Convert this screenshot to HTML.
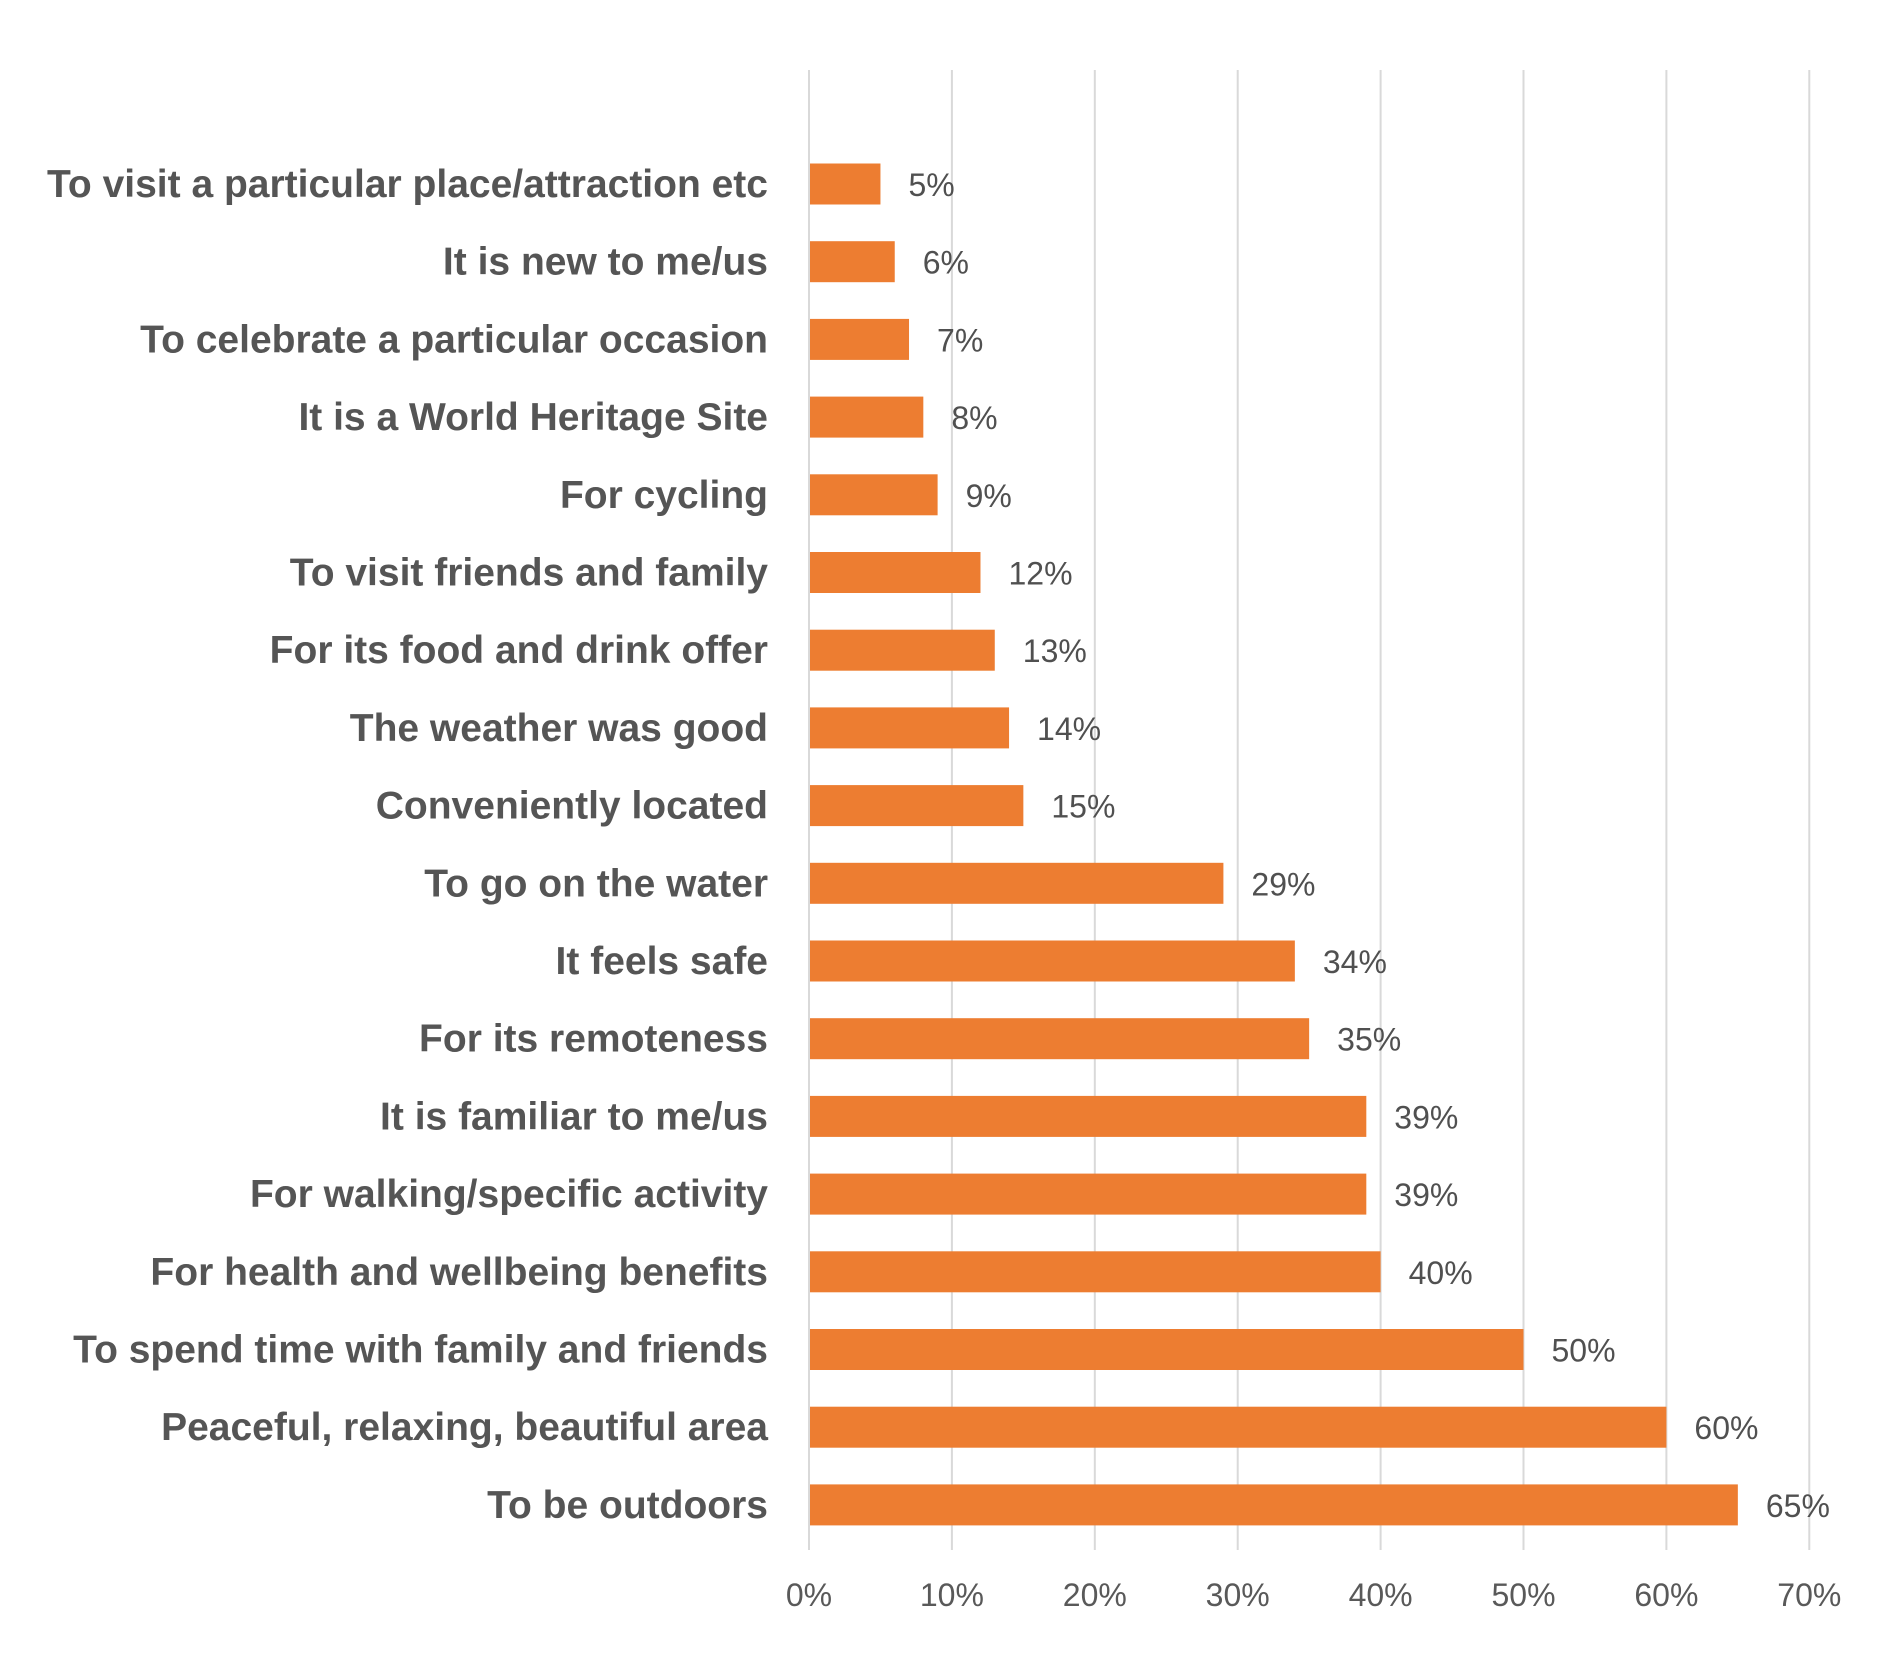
<!DOCTYPE html>
<html><head><meta charset="utf-8"><style>
html,body{margin:0;padding:0;background:#fff;}
svg{display:block;font-family:"Liberation Sans",sans-serif;}
</style></head><body>
<svg id="chart" width="1889" height="1661" viewBox="0 0 1889 1661">
<g id="grid"></g>
<g id="bars"></g>
<g id="cats"></g>
<g id="vals"></g>
<g id="ticks"></g>
</svg>
<script>
const categories = ["To visit a particular place/attraction etc","It is new to me/us","To celebrate a particular occasion","It is a World Heritage Site","For cycling","To visit friends and family","For its food and drink offer","The weather was good","Conveniently located","To go on the water","It feels safe","For its remoteness","It is familiar to me/us","For walking/specific activity","For health and wellbeing benefits","To spend time with family and friends","Peaceful, relaxing, beautiful area","To be outdoors"];
const values = [5,6,7,8,9,12,13,14,15,29,34,35,39,39,40,50,60,65];
const tickValues = [0,10,20,30,40,50,60,70];
const tickLabels = ["0%","10%","20%","30%","40%","50%","60%","70%"];

const NS="http://www.w3.org/2000/svg";
const x0=809, pxPer=142.9, yTop=184, pitch=77.7, barH=41;
const xs=v=>x0+v*pxPer/10;
const ys=i=>yTop+i*pitch;
function mk(t,a,p){const e=document.createElementNS(NS,t);for(const k in a)e.setAttribute(k,a[k]);p.appendChild(e);return e;}
const grid=document.getElementById('grid'),bars=document.getElementById('bars'),cats=document.getElementById('cats'),vals=document.getElementById('vals'),ticks=document.getElementById('ticks');
tickValues.forEach((t,i)=>{
  const l=mk('line',{x1:xs(t),x2:xs(t),y1:70,y2:1550,stroke:'#d9d9d9','stroke-width':2},grid);
  
  
  const tx=mk('text',{x:xs(t),y:1606,'text-anchor':'middle','font-size':32,fill:'#595959'},ticks);
  tx.textContent=tickLabels[i];
  
  
});
categories.forEach((c,i)=>{
  const y=ys(i);
  const r=mk('rect',{x:x0+1,y:y-barH/2,width:xs(values[i])-x0-1,height:barH,fill:'#ed7d31'},bars);
  
  
  const t=mk('text',{x:768,y:y+13,'text-anchor':'end','font-size':39,'font-weight':'bold',fill:'#555555'},cats);
  t.textContent=c;
  
  
  const v=mk('text',{x:xs(values[i])+28,y:y+12,'font-size':32,fill:'#505050'},vals);
  v.textContent=values[i]+'%';
  
  
});
</script>
</body></html>
